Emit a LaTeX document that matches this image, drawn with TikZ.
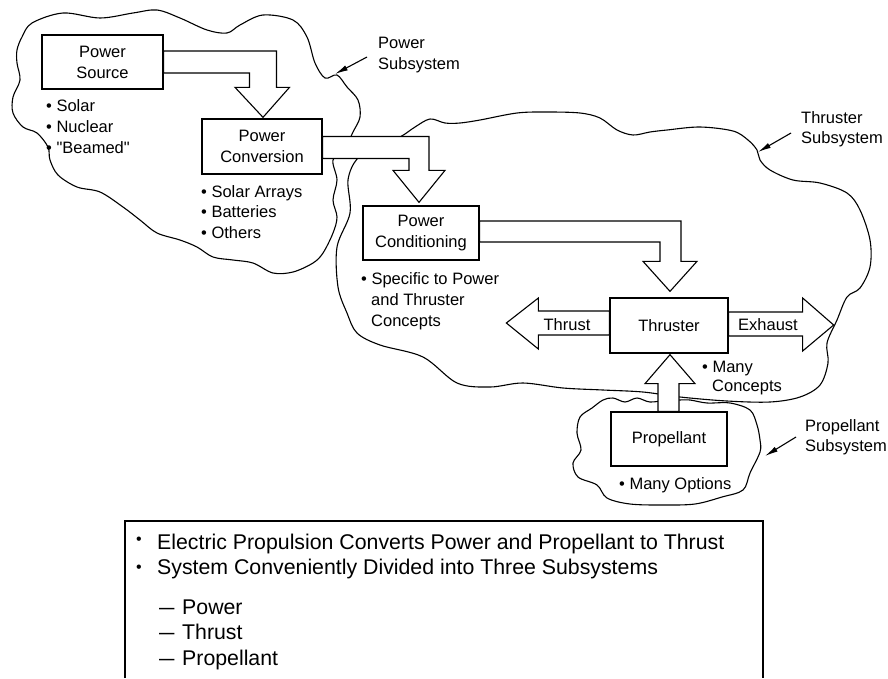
\documentclass[tikz,border=0pt]{standalone}
\usepackage{fontspec}
\setmainfont{Liberation Sans}
\newfontfamily\plainquote{Liberation Sans}[Ligatures=TeXOff]
\usetikzlibrary{calc,arrows.meta}
\newcommand{\lblfont}{\fontsize{16.5}{21}\selectfont}
\newcommand{\notefont}{\fontsize{21.3}{26}\selectfont}
\newcommand{\dq}{{\plainquote\char34\relax}}
\begin{document}
\begin{tikzpicture}[x=1pt,y=-1pt,
  cloud/.style={line width=1.1pt, line join=round},
  unit/.style={draw, line width=1.3pt, fill=white, align=center, font=\lblfont, inner sep=0pt},
  blockarrow/.style={draw, line width=1.1pt, fill=white, line join=miter},
  lt/.style={font=\lblfont, inner sep=0pt, anchor=base west},
  ltc/.style={font=\lblfont, inner sep=0pt, anchor=base},
  nt/.style={font=\notefont, inner sep=0pt, anchor=base west},
  nbullet/.style={font=\fontsize{16}{16}\selectfont, inner sep=0pt, anchor=base west},
  pointer/.style={line width=1.1pt, -{Latex[length=13pt,width=5.5pt]}}
]
\useasboundingbox (0,0) rectangle (888,678);

% ---- subsystem outlines ----
\draw[cloud] plot[smooth cycle, tension=0.55] coordinates {
 (32,23) (63,13) (100,18) (133,13) (157,10) (180,18) (207,30) (227,33) (240,25)
 (263,15) (293,20) (307,37) (315,63) (325,78) (337,75) (347,87) (358,100) (360,117)
 (353,132) (345,148) (333,160) (337,180) (333,200) (337,217) (333,233) (323,253)
 (313,263) (293,272) (273,273) (253,263) (233,260) (213,257) (197,247) (180,240)
 (157,233) (140,220) (123,207) (100,192) (77,187) (58,175) (50,160) (48,147)
 (37,133) (23,127) (13,113) (13,97) (20,80) (17,63) (17,50) (22,37)};

\draw[cloud] plot[smooth cycle, tension=0.55] coordinates {
 (400,137) (415,127) (430,119) (445,123) (460,123) (480,120) (517,113) (547,112)
 (580,113) (600,118) (617,130) (633,135) (650,132) (667,130) (700,127) (733,131)
 (748,140) (757,150) (760,160) (770,170) (793,180) (820,183) (847,193) (860,210)
 (870,240) (870,267) (860,288) (847,297) (837,320) (827,343) (828,363) (820,385)
 (800,397) (770,402) (727,401) (680,397) (643,392) (603,390) (563,388) (523,383)
 (490,387) (457,383) (423,357) (380,345) (357,333) (347,313) (338,287) (337,247)
 (350,213) (348,180) (357,159) (375,148)};

\draw[cloud] plot[smooth cycle, tension=0.55] coordinates {
 (679,400) (690,400) (707,403) (730,403) (750,410) (757,425) (760,440) (760,452)
 (750,473) (743,490) (722,497) (695,504) (663,505) (630,504) (607,498) (597,485)
 (578,477) (573,463) (581,450) (577,433) (580,417) (592,408) (603,400) (613,398)
 (625,402) (637,398) (650,402) (668,400)};

% ---- units ----
\node[unit, minimum width=121pt, minimum height=54pt] (ps) at (102.5,62) {Power\\Source};
\node[unit, minimum width=120pt, minimum height=55pt] (pc) at (262,146.5) {Power\\Conversion};
\node[unit, minimum width=116pt, minimum height=54pt] (pcond) at (421,233) {Power\\Conditioning};
\node[unit, minimum width=118pt, minimum height=55pt] (thr) at (669,325.5) {Thruster};
\node[unit, minimum width=116pt, minimum height=54pt] (prop) at (669,439) {Propellant};

% ---- block arrows between units ----
\draw[blockarrow] ($(ps.east)+(0,-11)$) -| ($(pc.north)+(14.5,-31)$) -- ++(13,0)
  -- ($(pc.north)+(1,-1)$) -- ($(pc.north)+(-27,-31)$) -- ++(14.5,0)
  |- ($(ps.east)+(0,11)$) -- cycle;

\draw[blockarrow] ($(pc.east)+(0,-10)$) -| ($(pcond.north)+(8,-35)$) -- ++(16,0)
  -- ($(pcond.north)+(-2,-3)$) -- ($(pcond.north)+(-28,-35)$) -- ++(16,0)
  |- ($(pc.east)+(0,12)$) -- cycle;

\draw[blockarrow] ($(pcond.east)+(0,-12)$) -| ($(thr.north)+(12,-36)$) -- ++(16,0)
  -- ($(thr.north)+(1,-6)$) -- ($(thr.north)+(-26,-36)$) -- ++(17,0)
  |- ($(pcond.east)+(0,9)$) -- cycle;

\draw[blockarrow] ($(thr.west)+(0,-14.5)$) -- ++(-71,0) -- ++(0,-13) -- ($(thr.west)+(-103,-2.5)$)
  -- ($(thr.west)+(-71,23.5)$) -- ++(0,-14) -- ($(thr.west)+(0,9.5)$) -- cycle;

\draw[blockarrow] ($(thr.east)+(0,-13.5)$) -- ++(74,0) -- ++(0,-14) -- ($(thr.east)+(105,-0.5)$)
  -- ($(thr.east)+(74,25.5)$) -- ++(0,-15) -- ($(thr.east)+(0,10.5)$) -- cycle;

\draw[blockarrow] ($(prop.north)+(-11,0)$) -- ($(thr.south)+(-11,30)$) -- ++(-13,0)
  -- ($(thr.south)+(1,1)$) -- ($(thr.south)+(26,30)$) -- ++(-16,0)
  -- ($(prop.north)+(10,0)$) -- cycle;

\node[ltc] (thrustlbl) at (567,330) {Thrust};
\node[ltc] (exhaustlbl) at (768,330) {Exhaust};

% ---- notes under the units ----
\node[lt] (ps1) at (46,111) {• Solar};
\node[lt] (ps2) at (46,132) {• Nuclear};
\node[lt] (ps3) at (46,153) {• \dq Beamed\dq};

\node[lt] (pc1) at (201,197) {• Solar Arrays};
\node[lt] (pc2) at (201,217) {• Batteries};
\node[lt] (pc3) at (201,238) {• Others};

\node[lt] (pd1) at (361,284) {• Specific to Power};
\node[lt] (pd2) at (371,305) {and Thruster};
\node[lt] (pd3) at (371,326) {Concepts};

\node[lt] (th1) at (702,372) {• Many};
\node[lt] (th2) at (712,391) {Concepts};

\node[lt] (pr1) at (619,489) {• Many Options};

% ---- subsystem captions and pointers ----
\node[lt] (psub1) at (378,48) {Power};
\node[lt] (psub2) at (378,69) {Subsystem};
\node[lt] (tsub1) at (801,123) {Thruster};
\node[lt] (tsub2) at (801,143) {Subsystem};
\node[lt] (rsub1) at (805,431) {Propellant};
\node[lt] (rsub2) at (805,451) {Subsystem};

\coordinate (pwrtail) at (367,57);
\coordinate (pwrtip) at (335,74);
\coordinate (thrtail) at (791,133);
\coordinate (thrtip) at (758,152);
\coordinate (prptail) at (796,437);
\coordinate (prptip) at (765,456);
\draw[pointer] (pwrtail) -- (pwrtip);
\draw[pointer] (thrtail) -- (thrtip);
\draw[pointer] (prptail) -- (prptip);

% ---- summary panel ----
\coordinate (panelbl) at (125,678);
\coordinate (paneltl) at (125,521);
\coordinate (paneltr) at (763,521);
\coordinate (panelbr) at (763,678);
\draw[line width=1.2pt] (panelbl) -- (paneltl) -- (paneltr) -- (panelbr);

\node[nbullet] (nb1) at (136,544) {•};
\node[nbullet] (nb2) at (136,572) {•};
\node[nt] (n1) at (157,549) {Electric Propulsion Converts Power and Propellant to Thrust};
\node[nt] (n2) at (157,574) {System Conveniently Divided into Three Subsystems};
\node[nt] (n3) at (159,614) {\makebox[23pt][l]{\scalebox{1.3}[1]{–}}Power};
\node[nt] (n4) at (159,639) {\makebox[23pt][l]{\scalebox{1.3}[1]{–}}Thrust};
\node[nt] (n5) at (159,665) {\makebox[23pt][l]{\scalebox{1.3}[1]{–}}Propellant};
\end{tikzpicture}
\end{document}
